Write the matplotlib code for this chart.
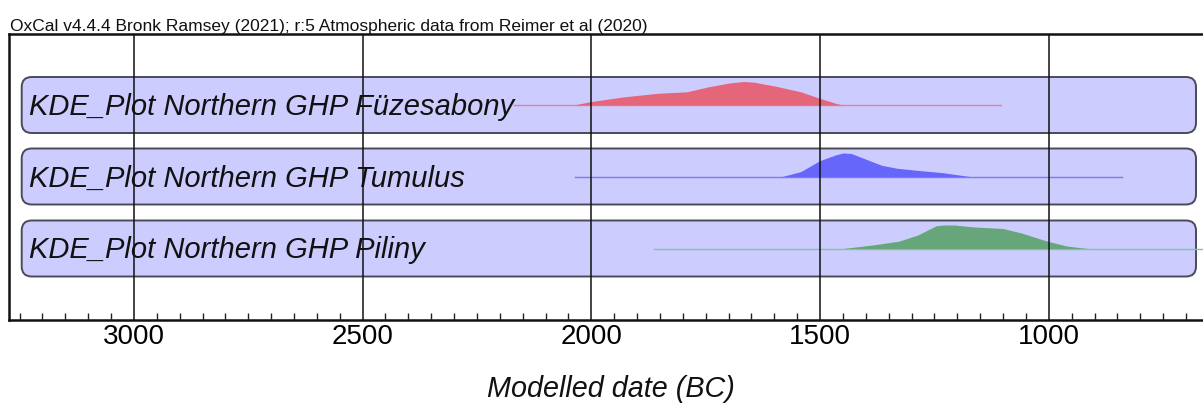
import numpy as np
import matplotlib.pyplot as plt
from matplotlib.patches import FancyBboxPatch
from matplotlib.ticker import MultipleLocator

plt.rcParams["font.family"] = ["Liberation Sans", "DejaVu Sans"]

# ── Data ─────────────────────────────────────────────────────────────────────

LABELS = ["KDE_Plot Northern GHP Füzesabony",
          "KDE_Plot Northern GHP Tumulus",
          "KDE_Plot Northern GHP Piliny"]

# modelled date (BC) and relative probability (peak = 1)
FUZ_YEARS = [2038, 2003, 1932, 1854, 1792, 1745, 1698, 1667, 1644, 1597, 1542, 1503, 1464, 1452]
FUZ_DENS  = [0, 0.14, 0.34, 0.50, 0.56, 0.77, 0.94, 1.0, 0.97, 0.80, 0.56, 0.30, 0.06, 0]

TUM_YEARS = [1583, 1542, 1500, 1466, 1450, 1432, 1399, 1366, 1332, 1281, 1231, 1173]
TUM_DENS  = [0, 0.21, 0.68, 0.92, 1.0, 0.98, 0.73, 0.48, 0.35, 0.25, 0.16, 0]

PIL_YEARS = [1450, 1385, 1328, 1287, 1246, 1230, 1206, 1166, 1100, 1060, 1003, 962, 929, 914]
PIL_DENS  = [0, 0.15, 0.31, 0.57, 0.97, 1.0, 1.0, 0.92, 0.85, 0.66, 0.31, 0.11, 0.03, 0]

# full extent of each distribution (thin line)
RANGES = [(2170, 1105), (2036, 839), (1862, 600)]

MAJOR_TICKS = [3000, 2500, 2000, 1500, 1000]

# ── Styling ──────────────────────────────────────────────────────────────────

FILL_COLORS = ["#e5667a", "#6666fb", "#66a67a"]
LINE_COLORS = ["#e98090", "#7a7af2", "#86c29e"]
BOX_FACE = "#ccccff"
BOX_EDGE = "#4a4a58"

XLIM = (3273, 663)
YLIM = (320, 34)          # vertical layout units, top of plot = 34
ROW_Y = [105, 176.5, 248.5]
BOX_H = 56
PEAK_H = 23.5
PX_PER_YEAR = 0.4575

# ── Figure ───────────────────────────────────────────────────────────────────

fig = plt.figure(figsize=(12.03, 4.04), dpi=100)
ax = fig.add_axes([9 / 1203, 1 - 320 / 404, 1 - 9 / 1203, 286 / 404])
ax.set_xlim(*XLIM)
ax.set_ylim(*YLIM)

box_left = XLIM[1] + 7 / PX_PER_YEAR     # year at right end of box
box_right = XLIM[0] - 12.7 / PX_PER_YEAR  # year at left end of box
rounding = 10 / PX_PER_YEAR

series = [(FUZ_YEARS, FUZ_DENS), (TUM_YEARS, TUM_DENS), (PIL_YEARS, PIL_DENS)]

for i, (yrs, dens) in enumerate(series):
    yc = ROW_Y[i]
    box = FancyBboxPatch((box_left, yc - BOX_H / 2), box_right - box_left, BOX_H,
                         boxstyle=f"round,pad=0,rounding_size={rounding}",
                         mutation_aspect=10 / rounding,
                         facecolor=BOX_FACE, edgecolor=BOX_EDGE, linewidth=1.4, zorder=1)
    ax.add_patch(box)

    ax.plot(RANGES[i], [yc, yc], color=LINE_COLORS[i], linewidth=1.0, zorder=1.5)
    yrs = np.array(yrs, dtype=float)
    dens = np.array(dens, dtype=float)
    ax.fill_between(yrs, yc, yc - PEAK_H * dens, color=FILL_COLORS[i],
                    linewidth=0, zorder=1.6)

    ax.text(XLIM[0] - 20 / PX_PER_YEAR, yc + 10, LABELS[i], fontsize=21,
            fontstyle="italic", va="baseline", ha="left", color="#111111", zorder=3)

# axes frame, grid and ticks
ax.set_axisbelow(False)
ax.set_xticks(MAJOR_TICKS)
ax.set_xticklabels([str(t) for t in MAJOR_TICKS])
ax.xaxis.set_minor_locator(MultipleLocator(50))
ax.grid(axis="x", which="major", color="#111111", linewidth=1.1)
ax.tick_params(axis="x", which="major", direction="in", length=0, pad=3, labelsize=20)
ax.tick_params(axis="x", which="minor", direction="in", length=5, width=1.0, color="#222222")
ax.set_yticks([])
for side in ["left", "top", "bottom"]:
    ax.spines[side].set_linewidth(1.8)
    ax.spines[side].set_color("#111111")
ax.spines["right"].set_visible(False)

fig.text(611 / 1203, 1 - 397 / 404, "Modelled date (BC)", fontsize=20.7,
         fontstyle="italic", ha="center", va="baseline", color="#111111")
fig.text(10 / 1203, 1 - 31 / 404,
         "OxCal v4.4.4 Bronk Ramsey (2021); r:5 Atmospheric data from Reimer et al (2020)",
         fontsize=12.5, ha="left", va="baseline", color="#111111")

fig.savefig("out.png", dpi=100)
